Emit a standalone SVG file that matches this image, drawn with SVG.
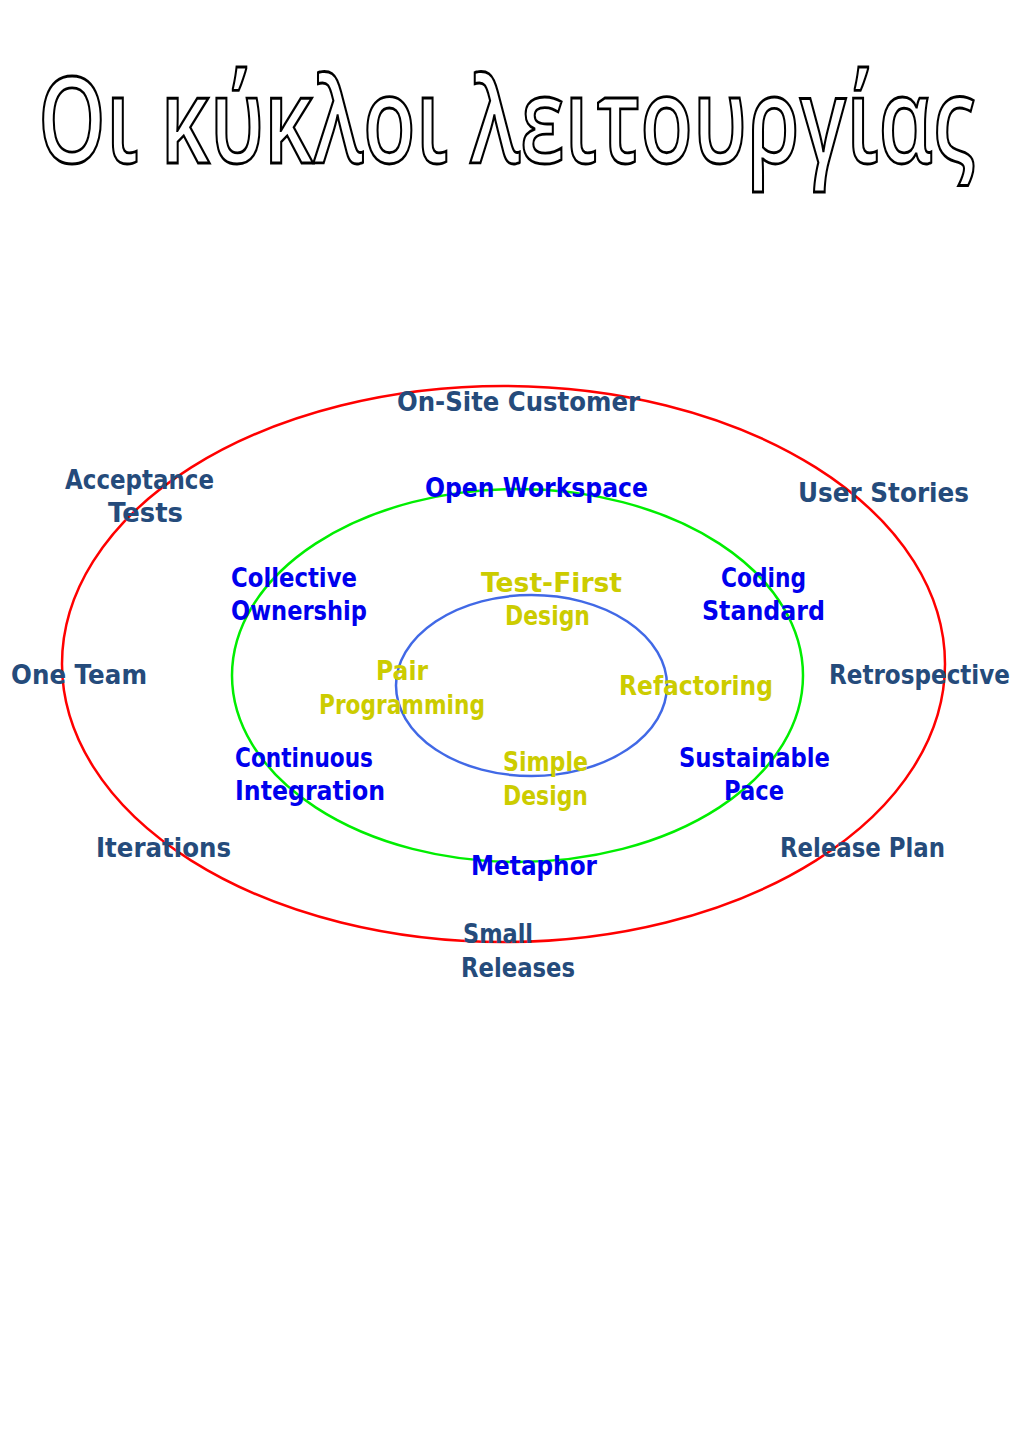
<svg xmlns="http://www.w3.org/2000/svg" width="1024" height="1448" viewBox="0 0 1024 1448">
<style>
.t{font-family:"DejaVu Sans","Liberation Sans",sans-serif;font-weight:bold;font-size:27px}
.d{fill:#254b7b}
.b{fill:#0000ee}
.y{fill:#cccc00}
.title{font-family:"Open Sans","DejaVu Sans",sans-serif;font-size:100px;font-weight:600;fill:#ffffff;stroke:#000000;stroke-width:2.6px}
.e{fill:none;stroke-width:2.5}
</style>
<rect width="1024" height="1448" fill="#ffffff"/>
<text class="title" transform="translate(0,163) scale(1,1.19)" x="38" y="0" textLength="937" lengthAdjust="spacingAndGlyphs" vector-effect="non-scaling-stroke">Οι κύκλοι λειτουργίας</text>
<g id="rings">
<ellipse id="outer" class="e" cx="503.5" cy="664" rx="441.5" ry="278" stroke="#ff0000"/>
<ellipse id="middle" class="e" cx="517.5" cy="675.5" rx="285.5" ry="186.5" stroke="#00ee00"/>
<ellipse id="inner" class="e" cx="531.5" cy="685.5" rx="135.5" ry="90.5" stroke="#4169e6"/>
</g>
<g id="outer-labels" class="t d">
<text id="onsite" x="397" y="411" textLength="243" lengthAdjust="spacingAndGlyphs">On-Site Customer</text>
<text x="65" y="489" textLength="149" lengthAdjust="spacingAndGlyphs">Acceptance</text>
<text x="108" y="522" textLength="75" lengthAdjust="spacingAndGlyphs">Tests</text>
<text x="798" y="502" textLength="171" lengthAdjust="spacingAndGlyphs">User Stories</text>
<text x="11" y="684" textLength="136" lengthAdjust="spacingAndGlyphs">One Team</text>
<text x="829" y="684" textLength="181" lengthAdjust="spacingAndGlyphs">Retrospective</text>
<text x="96" y="857" textLength="135" lengthAdjust="spacingAndGlyphs">Iterations</text>
<text x="780" y="857" textLength="165" lengthAdjust="spacingAndGlyphs">Release Plan</text>
<text x="463" y="943" textLength="70" lengthAdjust="spacingAndGlyphs">Small</text>
<text x="461" y="977" textLength="114" lengthAdjust="spacingAndGlyphs">Releases</text>
</g>
<g id="middle-labels" class="t b">
<text x="425" y="497" textLength="223" lengthAdjust="spacingAndGlyphs">Open Workspace</text>
<text x="231" y="587" textLength="126" lengthAdjust="spacingAndGlyphs">Collective</text>
<text x="231" y="620" textLength="136" lengthAdjust="spacingAndGlyphs">Ownership</text>
<text x="721" y="587" textLength="85" lengthAdjust="spacingAndGlyphs">Coding</text>
<text x="702" y="620" textLength="123" lengthAdjust="spacingAndGlyphs">Standard</text>
<text x="235" y="767" textLength="138" lengthAdjust="spacingAndGlyphs">Continuous</text>
<text x="235" y="800" textLength="150" lengthAdjust="spacingAndGlyphs">Integration</text>
<text x="679" y="767" textLength="151" lengthAdjust="spacingAndGlyphs">Sustainable</text>
<text x="724" y="800" textLength="60" lengthAdjust="spacingAndGlyphs">Pace</text>
<text x="471" y="875" textLength="126" lengthAdjust="spacingAndGlyphs">Metaphor</text>
</g>
<g id="inner-labels" class="t y">
<text x="481" y="592" textLength="141" lengthAdjust="spacingAndGlyphs">Test-First</text>
<text x="505" y="625" textLength="85" lengthAdjust="spacingAndGlyphs">Design</text>
<text x="376" y="680" textLength="52" lengthAdjust="spacingAndGlyphs">Pair</text>
<text x="319" y="714" textLength="166" lengthAdjust="spacingAndGlyphs">Programming</text>
<text x="619" y="695" textLength="154" lengthAdjust="spacingAndGlyphs">Refactoring</text>
<text x="503" y="771" textLength="85" lengthAdjust="spacingAndGlyphs">Simple</text>
<text x="503" y="805" textLength="85" lengthAdjust="spacingAndGlyphs">Design</text>
</g>
<g id="connectors"></g>
</svg>
